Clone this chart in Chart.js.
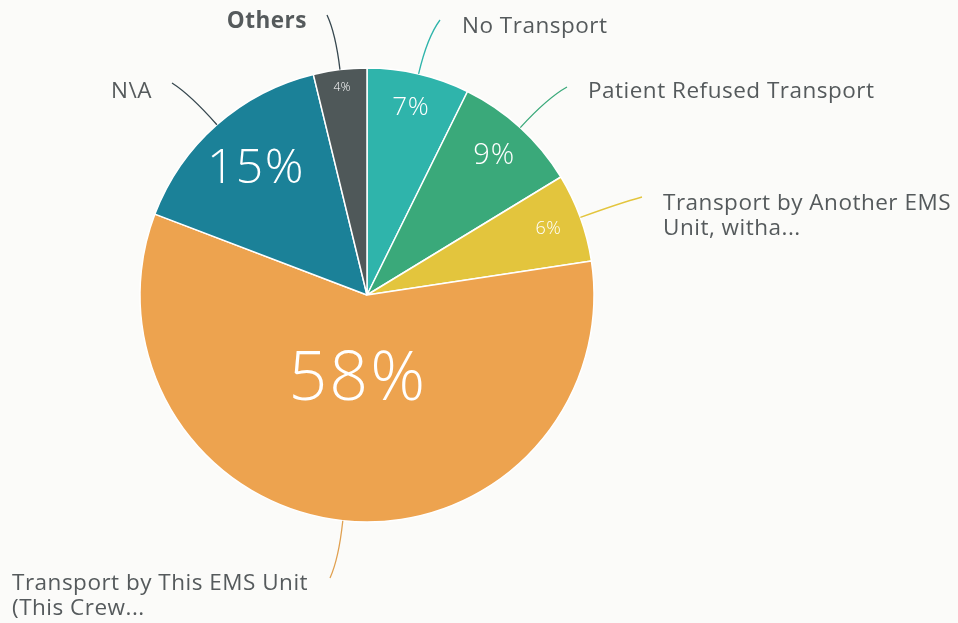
<!DOCTYPE html>
<html>
<head>
<meta charset="utf-8">
<script src="https://cdn.jsdelivr.net/npm/chart.js@4"></script>
<style>
html,body{margin:0;padding:0;background:#fbfbf9;}
#wrap{width:958px;height:623px;position:relative;}
</style>
</head>
<body>
<div id="wrap"><canvas id="c" width="958" height="623"></canvas></div>
<script>
// ---- data ----
const categories = ['No Transport', 'Patient Refused Transport', 'Transport by Another EMS Unit, witha...', 'Transport by This EMS Unit (This Crew...', 'N\\A', 'Others'];
const values = [7.3, 9.0, 6.3, 58.2, 15.4, 3.8];
const pctLabels = ['7%', '9%', '6%', '58%', '15%', '4%'];

// ---- styles / layout ----
const colors = ['#2fb4ab', '#3aa97a', '#e3c53d', '#eda34f', '#1b8198', '#4f5859'];
const leaderColors = ['#2fb4ab', '#3aa97a', '#e3c53d', '#e0a050', '#36474f', '#36474f'];
const innerStyle = [
  {size: 26, frac: 0.85},
  {size: 29, frac: 0.83},
  {size: 18, frac: 0.85},
  {size: 68, frac: 0.38},
  {size: 48, frac: 0.74},
  {size: 12, frac: 0.92}
];
// outer label layout relative to pie centre: leader end, text anchor, alignment, lines
const outerLayout = [
  {end: [73, -275], text: [95, -268], align: 'left', lines: ['No Transport']},
  {end: [200, -208], text: [221, -203], align: 'left', lines: ['Patient Refused Transport']},
  {end: [275, -98], text: [296, -91], align: 'left', lines: ['Transport by Another EMS', 'Unit, witha...']},
  {end: [-37, 283], text: [-355, 289], align: 'left', lines: ['Transport by This EMS Unit', '(This Crew...']},
  {end: [-195, -212], text: [-215, -203], align: 'right', lines: ['N\\A']},
  {end: [-40, -280], text: [-60, -273], align: 'right', lines: ['Others'], bold: true}
];

const labelPlugin = {
  id: 'pieLabels',
  afterDatasetsDraw(chart) {
    const ctx = chart.ctx;
    const meta = chart.getDatasetMeta(0);
    meta.data.forEach((arc, i) => {
      const {x, y, startAngle, endAngle, outerRadius} = arc.getProps(['x','y','startAngle','endAngle','outerRadius'], true);
      const mid = (startAngle + endAngle) / 2;
      const cx = Math.cos(mid), cy = Math.sin(mid);
      // inside percent label
      const st = innerStyle[i];
      ctx.save();
      ctx.fillStyle = '#ffffff';
      ctx.font = '300 ' + st.size + 'px "Open Sans", "Noto Sans", sans-serif';
      ctx.letterSpacing = (st.size * 0.03).toFixed(1) + 'px';
      ctx.textAlign = 'center';
      ctx.textBaseline = 'middle';
      ctx.fillText(pctLabels[i], x + cx * outerRadius * st.frac, y + cy * outerRadius * st.frac);
      ctx.restore();
      // leader line
      const lay = outerLayout[i];
      const sx = x + cx * outerRadius, sy = y + cy * outerRadius;
      const ex = x + lay.end[0], ey = y + lay.end[1];
      const d = Math.hypot(ex - sx, ey - sy);
      const kx = sx + cx * d * 0.65, ky = sy + cy * d * 0.65;
      ctx.save();
      ctx.strokeStyle = leaderColors[i];
      ctx.lineWidth = 1.3;
      ctx.beginPath();
      ctx.moveTo(sx, sy);
      ctx.quadraticCurveTo(kx, ky, ex, ey);
      ctx.stroke();
      // text
      ctx.fillStyle = '#555a5c';
      ctx.font = (lay.bold ? '700 ' : '400 ') + '22.5px "Open Sans", "Noto Sans", sans-serif';
      ctx.letterSpacing = '0.5px';
      ctx.textAlign = lay.align;
      ctx.textBaseline = 'middle';
      lay.lines.forEach((ln, j) => {
        ctx.fillText(ln, x + lay.text[0], y + lay.text[1] + j * 24.5);
      });
      ctx.restore();
    });
  }
};

new Chart(document.getElementById('c'), {
  type: 'pie',
  data: {
    labels: categories,
    datasets: [{
      data: values,
      backgroundColor: colors,
      borderColor: '#ffffff',
      borderWidth: 1.5,
      radius: 227
    }]
  },
  options: {
    responsive: false,
    animation: false,
    layout: {padding: {left: 0, right: 224, top: 0, bottom: 33}},
    plugins: {legend: {display: false}, tooltip: {enabled: false}}
  },
  plugins: [labelPlugin]
});
</script>
</body>
</html>
